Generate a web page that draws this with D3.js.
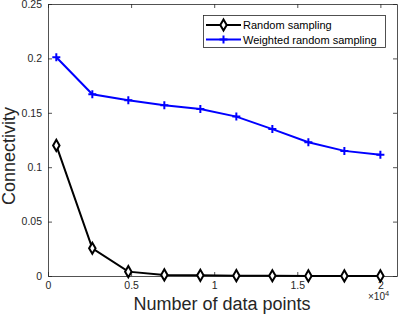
<!DOCTYPE html>
<html>
<head>
<meta charset="utf-8">
<script src="https://cdn.jsdelivr.net/npm/d3@7"></script>
<style>
  html, body { margin: 0; padding: 0; background: #fff; }
  text { font-family: "Liberation Sans", Arial, sans-serif; }
</style>
</head>
<body>
<div id="viz"></div>
<script>
// data
const dataPoints = [500, 2667, 4833, 7000, 9167, 11333, 13500, 15667, 17833, 20000];
const randomSampling = [0.120, 0.0255, 0.004, 0.001, 0.0006, 0.0003, 0.0002, 0.0001, 0.0001, 0.0001];
const weightedSampling = [0.201, 0.167, 0.1615, 0.157, 0.1535, 0.1465, 0.135, 0.123, 0.115, 0.1115];
const xTicks = [0, 5000, 10000, 15000, 20000];
const yTicks = [0, 0.05, 0.1, 0.15, 0.2, 0.25];
const seriesNames = ["Random sampling", "Weighted random sampling"];

const W = 399, H = 318;
const m = { left: 48, right: 2, top: 4, bottom: 42 };

const svg = d3.select('#viz').append('svg')
  .attr('width', W)
  .attr('height', H);

const x = d3.scaleLinear().domain([0, 21000]).range([m.left, W - m.right]);
const y = d3.scaleLinear().domain([0, 0.25]).range([H - m.bottom, m.top]);

const axisColor = '#262626';

// box + ticks (inside, all four sides)
const axB = svg.append('g').attr('transform', `translate(0,${y(0)})`)
  .call(d3.axisBottom(x).tickValues(xTicks).tickSizeInner(-4).tickSizeOuter(0)
    .tickFormat(d => d === 0 ? '0' : d3.format('~g')(d / 10000)).tickPadding(6));
const axT = svg.append('g').attr('transform', `translate(0,${y(0.25)})`)
  .call(d3.axisTop(x).tickValues(xTicks).tickSizeInner(-4).tickSizeOuter(0).tickFormat(''));
const axL = svg.append('g').attr('transform', `translate(${x(0)},0)`)
  .call(d3.axisLeft(y).tickValues(yTicks).tickSizeInner(-4).tickSizeOuter(0)
    .tickFormat(d => d === 0 ? '0' : d3.format('~g')(d)).tickPadding(6));
const axR = svg.append('g').attr('transform', `translate(${x(21000)},0)`)
  .call(d3.axisRight(y).tickValues(yTicks).tickSizeInner(-4).tickSizeOuter(0).tickFormat(''));

[axB, axT, axL, axR].forEach(a => {
  a.select('.domain').attr('stroke', axisColor).attr('stroke-width', 0.8);
  a.selectAll('.tick line').attr('stroke', axisColor).attr('stroke-width', 0.8);
  a.selectAll('.tick text').attr('fill', axisColor).style('font-size', '10.5px');
});

// x10^4 multiplier
const mult = svg.append('text')
  .attr('x', W - 31).attr('y', y(0) + 24)
  .attr('fill', axisColor).style('font-size', '10px');
mult.append('tspan').text('×10');
mult.append('tspan').attr('dy', -4).style('font-size', '7.5px').text('4');

// axis labels
svg.append('text')
  .attr('x', 222).attr('y', 310)
  .attr('text-anchor', 'middle').attr('fill', axisColor)
  .style('font-size', '18px').text('Number of data points');
svg.append('text')
  .attr('transform', `translate(15,156) rotate(-90)`)
  .attr('text-anchor', 'middle').attr('fill', axisColor)
  .style('font-size', '18px').text('Connectivity');

const line = d3.line().x((d, i) => x(dataPoints[i])).y(d => y(d));

// weighted (blue)
svg.append('path').datum(weightedSampling)
  .attr('fill', 'none').attr('stroke', '#0000ff').attr('stroke-width', 2)
  .attr('d', line);
svg.append('g').selectAll('path').data(weightedSampling).join('path')
  .attr('d', (d, i) => `M${x(dataPoints[i])},${y(d) - 4}V${y(d) + 4}M${x(dataPoints[i]) - 4},${y(d)}H${x(dataPoints[i]) + 4}`)
  .attr('stroke', '#0000ff').attr('stroke-width', 2);

// random (black)
svg.append('path').datum(randomSampling)
  .attr('fill', 'none').attr('stroke', '#000').attr('stroke-width', 2)
  .attr('d', line);
const diamond = d3.symbol().type(d3.symbolDiamond).size(36);
svg.append('g').selectAll('path').data(randomSampling).join('path')
  .attr('transform', (d, i) => `translate(${x(dataPoints[i])},${y(d)})`)
  .attr('d', diamond)
  .attr('fill', '#fff').attr('stroke', '#000').attr('stroke-width', 2);

// legend
const lg = svg.append('g');
lg.append('rect').attr('x', 203.5).attr('y', 15.5).attr('width', 182).attr('height', 32)
  .attr('fill', '#fff').attr('stroke', axisColor).attr('stroke-width', 0.8);
const colors = ['#000', '#0000ff'];
seriesNames.forEach((name, i) => {
  const ly = 25 + i * 14.5;
  lg.append('line').attr('x1', 206).attr('x2', 241).attr('y1', ly).attr('y2', ly)
    .attr('stroke', colors[i]).attr('stroke-width', 2);
  if (i === 0) {
    lg.append('path').attr('transform', `translate(223.5,${ly})`).attr('d', diamond)
      .attr('fill', '#fff').attr('stroke', '#000').attr('stroke-width', 2);
  } else {
    lg.append('path').attr('d', `M223.5,${ly - 4}V${ly + 4}M219.5,${ly}H227.5`)
      .attr('stroke', colors[i]).attr('stroke-width', 2);
  }
  lg.append('text').attr('x', 243).attr('y', ly + 4)
    .attr('fill', '#000').style('font-size', '11px').text(name);
});
</script>
</body>
</html>
